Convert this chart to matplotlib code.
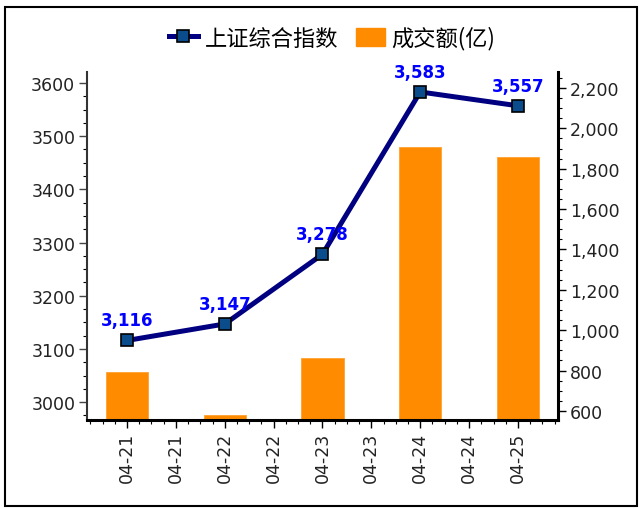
import matplotlib.pyplot as plt
from matplotlib.patches import Rectangle
from matplotlib.ticker import FixedLocator, MultipleLocator, FuncFormatter
from matplotlib.lines import Line2D

plt.rcParams['font.family'] = ['DejaVu Sans', 'Noto Sans CJK SC']

# daily index close and turnover (100 million yuan)
days = ['04-21', '04-22', '04-23', '04-24', '04-25']
index_close = [3116, 3147, 3278, 3583, 3557]
turnover = [792, 582, 861, 1906, 1857]
tick_labels = ['04-21', '04-21', '04-22', '04-22', '04-23', '04-23', '04-24', '04-24', '04-25']

pos = [2 * i for i in range(len(days))]

fig = plt.figure(figsize=(6.42, 5.10), dpi=100)
ax = fig.add_axes([87 / 642, 89 / 510, 471 / 642, 348 / 510])
ax2 = ax.twinx()

# turnover bars behind, index line in front
ax2.bar(pos, turnover, width=0.86, color='#FF8C00', edgecolor='#FFA030', linewidth=0.6)
ax.plot(pos, index_close, color='#000080', lw=3.6, marker='s', ms=9,
        mfc='#0A4C8C', mec='black', mew=1.2, zorder=3)
for x, v in zip(pos, index_close):
    ax.annotate(f'{v:,}', (x, v), xytext=(0, 8), textcoords='offset points',
                ha='center', va='bottom', color='#0000FF', fontsize=12,
                fontweight='bold', zorder=4)

ax.set_zorder(ax2.get_zorder() + 1)
ax.patch.set_visible(False)

ax.set_xlim(-0.82, 8.82)
ax.set_ylim(2966.5, 3620.5)
ax2.set_ylim(555, 2279)

ax.xaxis.set_major_locator(FixedLocator(range(len(tick_labels))))
ax.set_xticklabels(tick_labels, rotation=90)
ax.xaxis.set_minor_locator(MultipleLocator(0.25))
ax.yaxis.set_major_locator(MultipleLocator(100))
ax.yaxis.set_minor_locator(MultipleLocator(25))
ax2.yaxis.set_major_locator(MultipleLocator(200))
ax2.yaxis.set_minor_locator(MultipleLocator(50))
ax2.yaxis.set_major_formatter(FuncFormatter(lambda v, p: f'{int(v):,}'))

for a in (ax, ax2):
    a.spines['top'].set_visible(False)
    a.tick_params(which='major', length=5.5, width=1, labelsize=12.5,
                  labelcolor='#222222', pad=3)
    a.tick_params(which='minor', length=3, width=0.8)
ax.spines['left'].set_color('#333333')
ax.spines['left'].set_linewidth(1.5)
ax.spines['right'].set_visible(False)
ax.spines['bottom'].set_linewidth(2.2)
ax2.spines['left'].set_visible(False)
ax2.spines['bottom'].set_visible(False)
ax2.spines['right'].set_linewidth(2.2)
ax.tick_params(axis='y', colors='#444444', labelcolor='#222222')

handles = [
    Line2D([], [], color='#000080', lw=3.6, marker='s', ms=9, mfc='#0A4C8C',
           mec='black', mew=1.2),
    Rectangle((0, 0), 1, 1, color='#FF8C00'),
]
fig.legend(handles, ['上证综合指数', '成交额(亿)'], loc='center', ncol=2,
           bbox_to_anchor=(332 / 642, 1 - 39 / 510), frameon=False,
           prop={'family': ['Noto Sans CJK SC'], 'size': 16},
           handlelength=1.3, handleheight=0.9, handletextpad=0.3,
           columnspacing=0.8)

# outer frame
fig.patches.append(Rectangle((5 / 642, 3 / 510), 632 / 642, 499 / 510,
                             transform=fig.transFigure, fill=False,
                             edgecolor='black', lw=1.5))

fig.savefig('out.png', dpi=100)
